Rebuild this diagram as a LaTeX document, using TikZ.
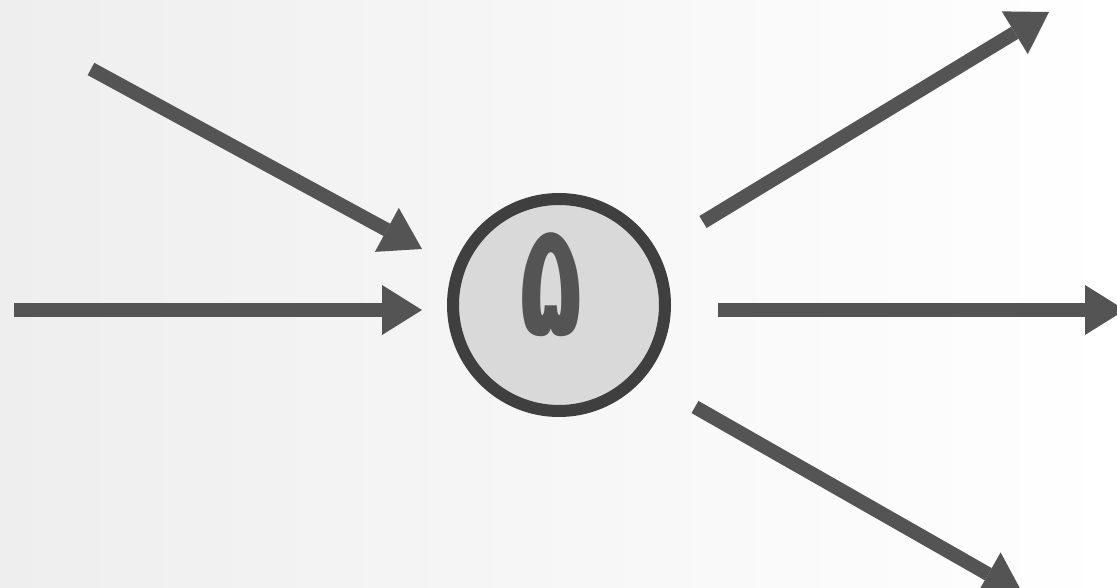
\documentclass[tikz,border=0pt]{standalone}
\usepackage{fontspec}
\newfontfamily\arabicfont[Script=Arabic]{DejaVu Sans}
\TeXXeTstate=1
\usetikzlibrary{arrows.meta}
\definecolor{arr}{HTML}{545454}
\definecolor{ring}{HTML}{3F3F3F}
\definecolor{disc}{HTML}{D9D9D9}
\definecolor{bgl}{HTML}{EEEEEE}
\begin{document}
\begin{tikzpicture}[x=1pt,y=-1pt,
  flow/.style={draw=arr, line width=14pt, -{Triangle[length=40pt,width=50pt,line width=0pt]}},
  hub/.style={circle, draw=ring, line width=12pt, fill=disc, minimum size=212pt, inner sep=0pt}]
\useasboundingbox (0,0) rectangle (1117,588);
\clip (0,0) rectangle (1117,588);
\shade[left color=bgl, right color=white] (0,0) rectangle (1117,588);
\node[hub] (c) at (559,305) {};
\node[text=arr, inner sep=0pt, xscale=0.65] (num) at (551,285) {\arabicfont\bfseries\fontsize{160}{160}\selectfont\beginR ۵\endR};
\coordinate (s1) at (91,69);   \coordinate (t1) at (422,249);
\coordinate (s2) at (14,310);  \coordinate (t2) at (422,310);
\coordinate (s3) at (703,222); \coordinate (t3) at (1049,12);
\coordinate (s4) at (718,310); \coordinate (t4) at (1125,310);
\coordinate (s5) at (695,407); \coordinate (t5) at (1023,594);
\draw[flow] (s1) -- (t1);
\draw[flow] (s2) -- (t2);
\draw[flow] (s3) -- (t3);
\draw[flow] (s4) -- (t4);
\draw[flow] (s5) -- (t5);
\end{tikzpicture}
\end{document}
